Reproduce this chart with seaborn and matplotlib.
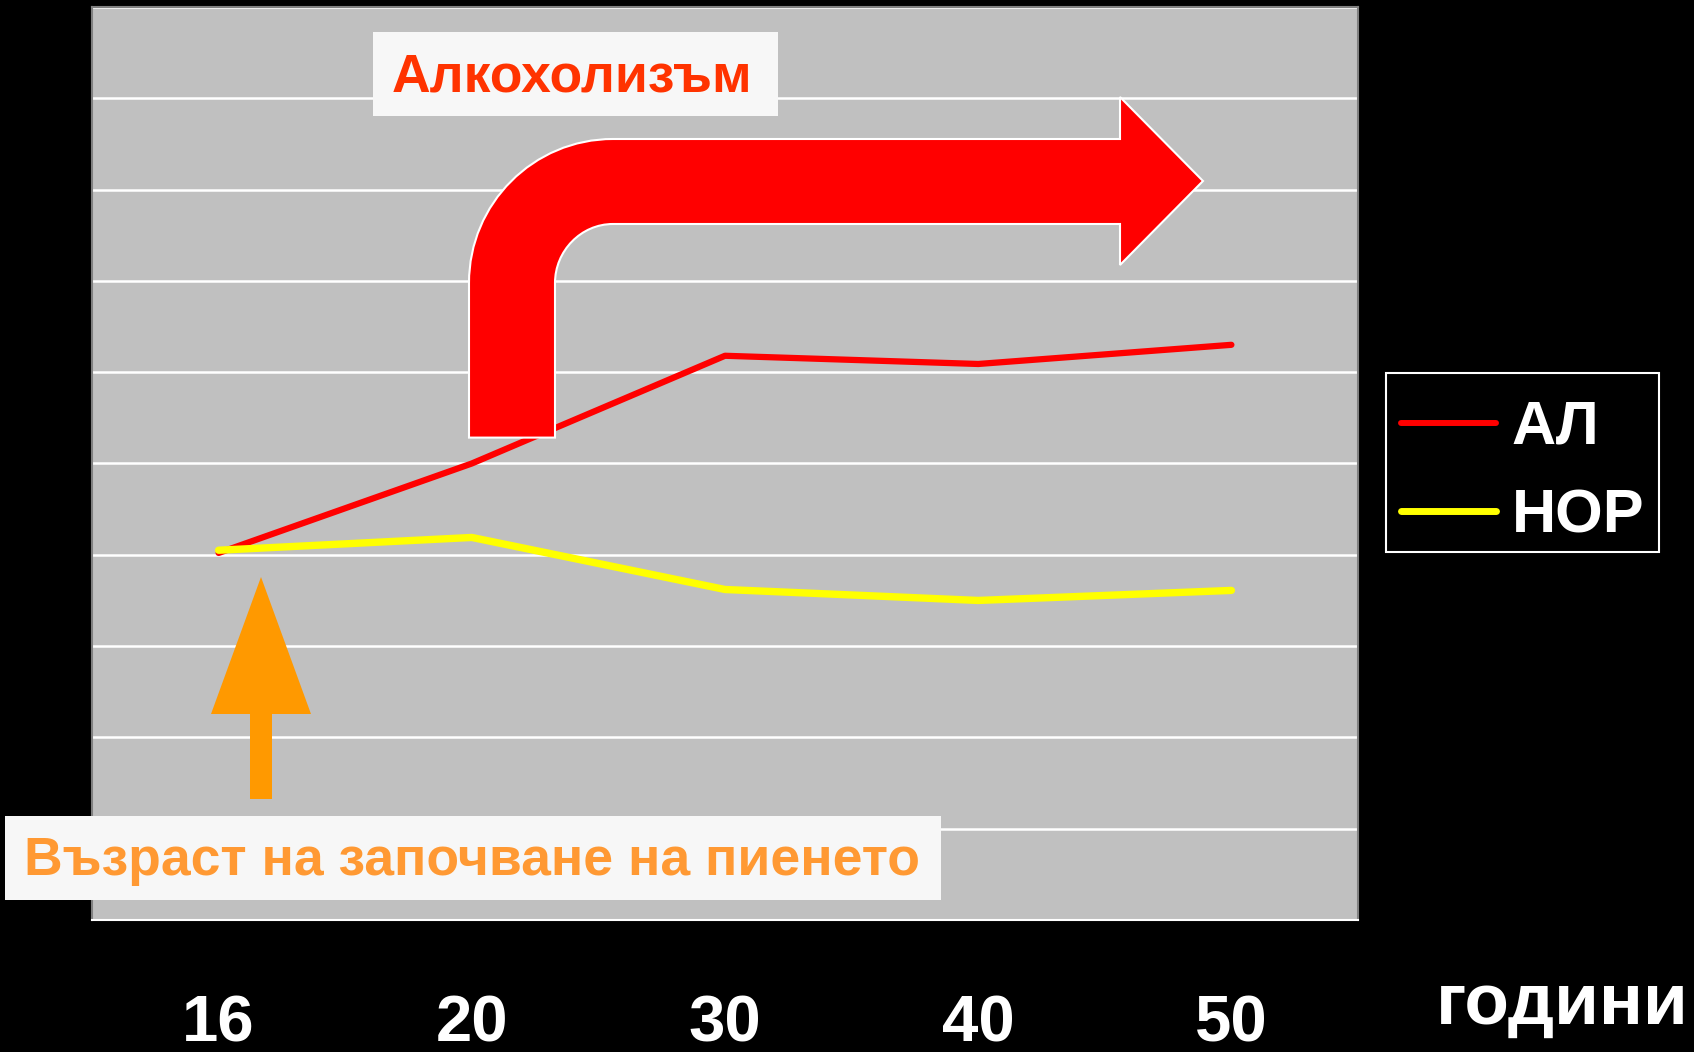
import numpy as np
import pandas as pd
import seaborn as sns
import matplotlib.pyplot as plt
from matplotlib.patches import Rectangle, PathPatch, Polygon
from matplotlib.path import Path
from matplotlib.transforms import Affine2D

# Chart data (y axis runs 0..10, one gridline per unit)
ages = ["16", "20", "30", "40", "50"]
al_values = [4.02, 5.0, 6.18, 6.09, 6.30]
nor_values = [4.05, 4.19, 3.62, 3.50, 3.61]
series_names = ["АЛ", "НОР"]
series_colors = ["#ff0000", "#ffff00"]

df = pd.DataFrame({
    "age": ages * 2,
    "value": al_values + nor_values,
    "group": [series_names[0]] * len(ages) + [series_names[1]] * len(ages),
})

sns.set_style("white")
plt.rcParams["font.family"] = ["Liberation Sans", "DejaVu Sans"]

W, H = 1694, 1052
fig = plt.figure(figsize=(W / 100, H / 100), dpi=100, facecolor="black")
ax = fig.add_axes([92 / W, 1 - 920 / H, (1358 - 92) / W, (920 - 7) / H])
ax.set_facecolor("#c0c0c0")

sns.lineplot(data=df, x="age", y="value", hue="group", palette=series_colors,
             sort=False, ax=ax, linewidth=4)
ax.lines[0].set_linewidth(4.5)
ax.lines[1].set_linewidth(5.3)

# axes styling
ax.set_xlim(-0.5, 4.5)
ax.set_ylim(0, 10)
ax.set_yticks(range(0, 11))
ax.yaxis.grid(True, color="white", linewidth=1.8)
ax.set_axisbelow(True)
ax.tick_params(axis="y", left=False, labelleft=False)
ax.set_xticks(range(len(ages)))
ax.set_xticklabels(ages)
ax.set_xticks(np.arange(-0.5, len(ages), 1), minor=True)
ax.tick_params(axis="x", which="major", length=0, pad=54, labelsize=47, labelcolor="white")
ax.tick_params(axis="x", which="minor", length=15, width=1.2, color="white", direction="out")
for lbl in ax.get_xticklabels():
    lbl.set_fontweight("bold")
ax.set_xlabel("")
ax.set_ylabel("")
for side in ["left", "top", "right"]:
    ax.spines[side].set_color("#808080")
    ax.spines[side].set_linewidth(1.5)
ax.spines["bottom"].set_color("white")
ax.spines["bottom"].set_linewidth(1.5)

# annotations, positioned in reference pixel coordinates
to_fig = Affine2D().scale(1 / W, -1 / H).translate(0, 1) + fig.transFigure

# legend on the right (frame drawn separately behind it)
fig.add_artist(Rectangle((1386, 373), 273, 179, transform=to_fig, facecolor="black",
                         edgecolor="white", linewidth=1.5, zorder=-1))
handles, labels = ax.get_legend_handles_labels()
ax.get_legend().remove()
handles[0].set_linewidth(4.3)
handles[1].set_linewidth(5.0)
leg = ax.legend(handles, labels, loc="center",
                bbox_to_anchor=(1522.5 / W, 1 - 472.5 / H), bbox_transform=fig.transFigure,
                frameon=False,
                prop={"family": "Liberation Sans", "weight": "bold", "size": 44},
                handlelength=1.55, handletextpad=0.26, labelspacing=0.51, borderpad=0.25)
for t in leg.get_texts():
    t.set_color("white")

fig.add_artist(Rectangle((373, 32), 405, 84, transform=to_fig,
                         facecolor="#f7f7f7", edgecolor="none", zorder=2))
fig.text(392 / W, 1 - 91 / H, "Алкохолизъм", color="#ff3300", fontsize=38.5,
         fontweight="bold", ha="left", va="baseline", zorder=3)

fig.add_artist(Rectangle((5, 816), 936, 84, transform=to_fig,
                         facecolor="#f7f7f7", edgecolor="none", zorder=2))
fig.text(24 / W, 1 - 875 / H, "Възраст на започване на пиенето", color="#ff9933",
         fontsize=38.5, fontweight="bold", ha="left", va="baseline", zorder=3)

# big bent red arrow
k = 0.5523
cx, cy, R, r = 613, 283, 144, 58
verts = [
    (469, 437.6), (469, cy),
    (469, cy - k * R), (cx - k * R, 139), (cx, 139),
    (1120, 139), (1120, 97), (1203, 181), (1120, 265), (1120, 224), (cx, 224),
    (cx - k * r, 224), (555, cy - k * r), (555, cy),
    (555, 437.6), (469, 437.6),
]
codes = [Path.MOVETO, Path.LINETO,
         Path.CURVE4, Path.CURVE4, Path.CURVE4,
         Path.LINETO, Path.LINETO, Path.LINETO, Path.LINETO, Path.LINETO, Path.LINETO,
         Path.CURVE4, Path.CURVE4, Path.CURVE4,
         Path.LINETO, Path.CLOSEPOLY]
fig.add_artist(PathPatch(Path(verts, codes), transform=to_fig, facecolor="#ff0000",
                         edgecolor="white", linewidth=1.5, zorder=2))

# orange up arrow
fig.add_artist(Polygon([(250, 799), (272, 799), (272, 714), (311, 714), (261, 577),
                        (211, 714), (250, 714)], closed=True, transform=to_fig,
                       facecolor="#ff9900", edgecolor="none", zorder=2))

fig.text(1436 / W, 1 - 1024 / H, "години", color="white", fontsize=52.5,
         fontweight="bold", ha="left", va="baseline")

fig.savefig("out.png", dpi=100, facecolor="black")
